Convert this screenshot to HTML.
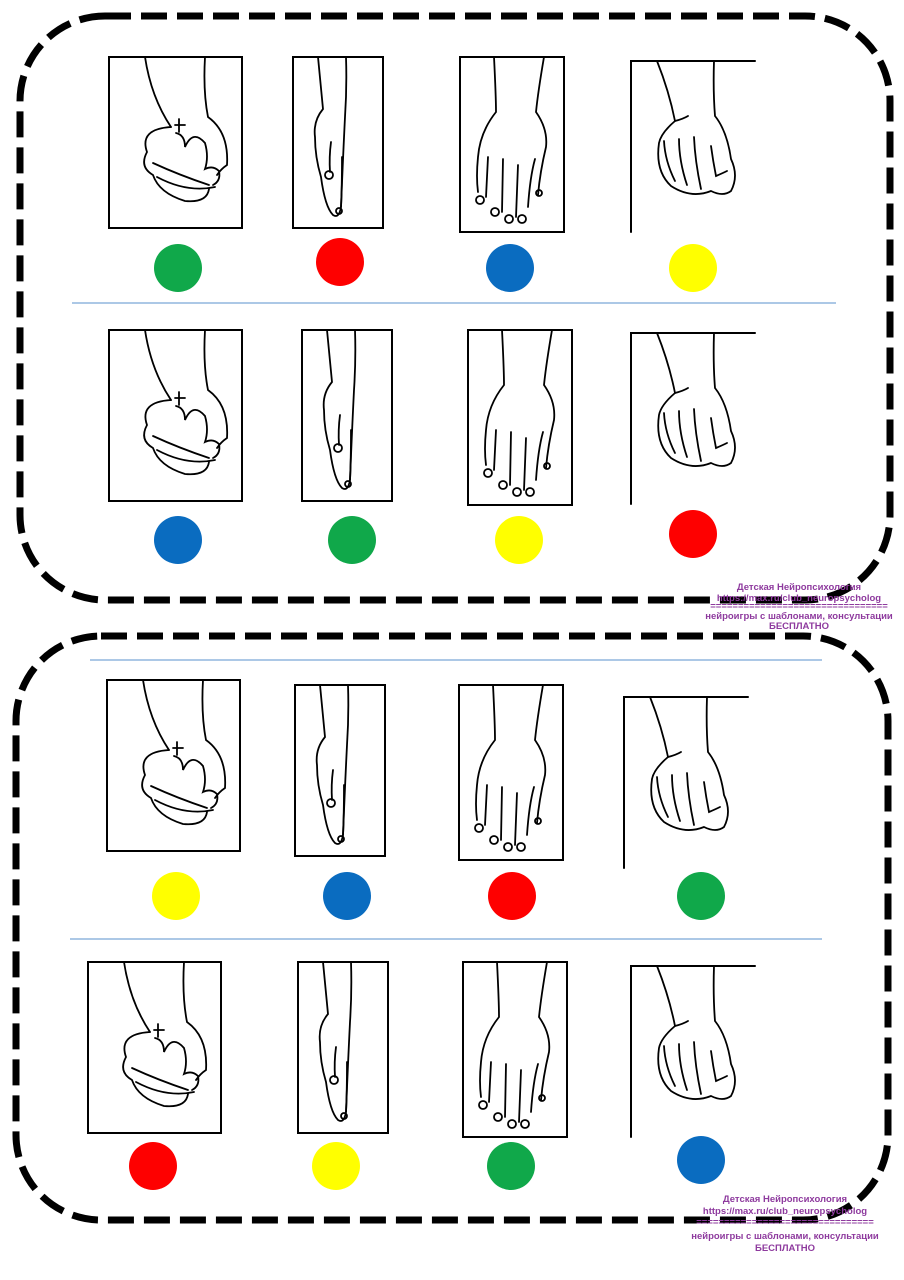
<!DOCTYPE html>
<html><head><meta charset="utf-8"><style>
html,body{margin:0;padding:0;background:#fff;width:904px;height:1280px;overflow:hidden}
svg{display:block}
.wm{font-family:"Liberation Sans",sans-serif;font-weight:bold;fill:#8e3a9e;font-size:9.5px;text-anchor:middle}
</style></head><body>
<svg width="904" height="1280" viewBox="0 0 904 1280" xmlns="http://www.w3.org/2000/svg">
<defs>
<g id="fist" fill="none" stroke="#000" stroke-width="1.8" stroke-linecap="round">
<rect x="0" y="0" width="133" height="171" stroke-width="2"/>
<path d="M36 0 Q42 40 62 70"/>
<path d="M96 0 Q94 35 99 60 Q120 75 118 108 Q112 112 108 118"/>
<path d="M62 70 Q30 72 38 95 Q30 110 44 118 Q50 136 76 144 Q98 146 100 132"/>
<path d="M67 76 Q76 78 76 90 Q84 72 96 86 Q100 100 96 112 Q104 108 110 114 Q112 124 104 128"/>
<path d="M44 106 Q70 118 100 128"/>
<path d="M48 120 Q78 136 106 130"/>
<path d="M70 62 L70 75 M66 68 L76 68"/>
</g>
<g id="finger" fill="none" stroke="#000" stroke-width="1.8" stroke-linecap="round">
<rect x="0" y="0" width="90" height="171" stroke-width="2"/>
<path d="M25 0 Q28 30 30 52 Q20 64 22 80 Q22 100 28 120 Q32 150 40 158 Q46 162 48 150 Q50 100 52 60 Q54 30 53 0"/>
<path d="M38 85 Q36 100 37 115"/>
<circle cx="36" cy="118" r="4"/>
<path d="M49 100 Q49 130 48 150"/>
<circle cx="46" cy="154" r="3"/>
</g>
<g id="palm" fill="none" stroke="#000" stroke-width="1.8" stroke-linecap="round">
<rect x="0" y="0" width="104" height="175" stroke-width="2"/>
<path d="M34 0 Q36 40 36 55 Q20 75 18 100 Q16 120 18 135"/>
<path d="M84 0 Q78 35 76 55 Q88 72 86 90 Q80 115 78 138"/>
<path d="M28 100 L26 140 M43 102 L42 155 M58 108 L56 160 M75 102 Q70 120 68 150"/>
<circle cx="20" cy="143" r="4"/><circle cx="35" cy="155" r="4"/><circle cx="49" cy="162" r="4"/><circle cx="62" cy="162" r="4"/><circle cx="79" cy="136" r="3"/>
</g>
<g id="edge" fill="none" stroke="#000" stroke-width="1.8" stroke-linecap="round">
<path d="M0 171 L0 0 L124 0" stroke-width="2"/>
<path d="M26 0 Q38 30 44 60 Q30 72 28 82 Q24 110 40 125 Q60 138 80 130 Q92 136 100 130 Q108 115 100 98 Q96 70 84 55 Q82 30 83 0"/>
<path d="M44 60 Q52 58 57 55"/>
<path d="M33 80 Q34 100 44 120 M48 78 Q48 100 56 124 M63 76 Q64 100 70 128 M80 85 Q82 100 85 115 Q92 112 96 110"/>
</g>
</defs>

<rect x="20" y="16" width="870" height="584" rx="85" fill="none" stroke="#000" stroke-width="7" stroke-dasharray="26 10"/>
<rect x="16" y="636" width="872" height="584" rx="85" fill="none" stroke="#000" stroke-width="7" stroke-dasharray="26 10"/>

<line x1="72" y1="303" x2="836" y2="303" stroke="#7aa7d6" stroke-width="1.2"/>
<line x1="90" y1="660" x2="822" y2="660" stroke="#7aa7d6" stroke-width="1.2"/>
<line x1="70" y1="939" x2="822" y2="939" stroke="#7aa7d6" stroke-width="1.2"/>

<use href="#fist" x="109" y="57"/>
<use href="#finger" x="293" y="57"/>
<use href="#palm" x="460" y="57"/>
<use href="#edge" x="631" y="61"/>
<circle cx="178" cy="268" r="24" fill="#10a84a"/>
<circle cx="340" cy="262" r="24" fill="#fe0000"/>
<circle cx="510" cy="268" r="24" fill="#0a6cc0"/>
<circle cx="693" cy="268" r="24" fill="#ffff00"/>

<use href="#fist" x="109" y="330"/>
<use href="#finger" x="302" y="330"/>
<use href="#palm" x="468" y="330"/>
<use href="#edge" x="631" y="333"/>
<circle cx="178" cy="540" r="24" fill="#0a6cc0"/>
<circle cx="352" cy="540" r="24" fill="#10a84a"/>
<circle cx="519" cy="540" r="24" fill="#ffff00"/>
<circle cx="693" cy="534" r="24" fill="#fe0000"/>

<use href="#fist" x="107" y="680"/>
<use href="#finger" x="295" y="685"/>
<use href="#palm" x="459" y="685"/>
<use href="#edge" x="624" y="697"/>
<circle cx="176" cy="896" r="24" fill="#ffff00"/>
<circle cx="347" cy="896" r="24" fill="#0a6cc0"/>
<circle cx="512" cy="896" r="24" fill="#fe0000"/>
<circle cx="701" cy="896" r="24" fill="#10a84a"/>

<use href="#fist" x="88" y="962"/>
<use href="#finger" x="298" y="962"/>
<use href="#palm" x="463" y="962"/>
<use href="#edge" x="631" y="966"/>
<circle cx="153" cy="1166" r="24" fill="#fe0000"/>
<circle cx="336" cy="1166" r="24" fill="#ffff00"/>
<circle cx="511" cy="1166" r="24" fill="#10a84a"/>
<circle cx="701" cy="1160" r="24" fill="#0a6cc0"/>

<g class="wm">
<text x="799" y="590">Детская Нейропсихология</text>
<text x="799" y="601">https://max.ru/club_neuropsycholog</text>
<text x="799" y="609">================================</text>
<text x="799" y="619">нейроигры с шаблонами, консультации</text>
<text x="799" y="629">БЕСПЛАТНО</text>
<text x="785" y="1202">Детская Нейропсихология</text>
<text x="785" y="1214">https://max.ru/club_neuropsycholog</text>
<text x="785" y="1225">================================</text>
<text x="785" y="1239">нейроигры с шаблонами, консультации</text>
<text x="785" y="1251">БЕСПЛАТНО</text>
</g>
</svg>
</body></html>
